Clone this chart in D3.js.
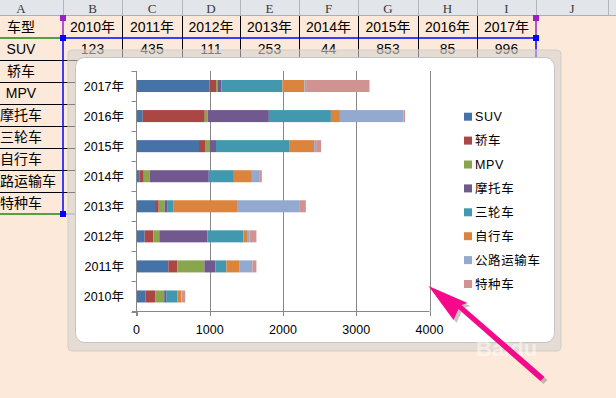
<!DOCTYPE html>
<html lang="zh">
<head>
<meta charset="UTF-8">
<title>车型 堆积条形图</title>
<script src="https://d3js.org/d3.v7.min.js"></script>
<style>
  body { margin: 0; background: #fde9d9; overflow: hidden; }
  svg { display: block; }
  text { font-family: "Liberation Sans", Arial, "Noto Sans CJK SC", sans-serif; }
</style>
</head>
<body>
<div id="chart"></div>
<script>
// ---- data ----
var years = ["2010年", "2011年", "2012年", "2013年", "2014年", "2015年", "2016年", "2017年"];
var carTypes = ["SUV", "轿车", "MPV", "摩托车", "三轮车", "自行车", "公路运输车", "特种车"];

var suv     = [123, 435, 111, 253, 44, 853, 85, 996];
var sedan   = [132, 123, 118, 50, 55, 82, 847, 90];
var mpv     = [123, 369, 82, 82, 82, 68, 41, 27];
var moto    = [27, 150, 656, 41, 806, 82, 834, 45];
var tricycle = [155, 150, 492, 82, 342, 998, 847, 834];
var bicycle = [50, 182, 50, 875, 246, 342, 123, 300];
var truck   = [5, 173, 32, 847, 100, 27, 866, 23];
var special = [50, 55, 96, 82, 36, 68, 23, 866];

var xTicks = [0, 1000, 2000, 3000, 4000];
var columnLetters = ["A", "B", "C", "D", "E", "F", "G", "H", "I", "J"];

var seriesValues = [suv, sedan, mpv, moto, tricycle, bicycle, truck, special];
var colors = ["#4572a7", "#aa4643", "#89a54e", "#71588f", "#4198af", "#db843d", "#93a9cf", "#d19392"];

// ---- layout ----
var W = 616, H = 398;
var colEdges = [-21, 63, 122, 182, 240, 299, 358, 418, 477, 536, 608];
var headerH = 16, rowH = 22;

var svg = d3.select("#chart").append("svg")
    .attr("width", W)
    .attr("height", H);

svg.append("rect").attr("width", W).attr("height", H).attr("fill", "#fde9d9");

// ---- spreadsheet behind the chart ----
svg.append("rect").attr("width", W).attr("height", headerH).attr("fill", "#e2e5e9");
svg.append("line").attr("x1", 0).attr("x2", W).attr("y1", headerH - 0.5).attr("y2", headerH - 0.5)
    .attr("stroke", "#aab0b8");
colEdges.slice(1).forEach(function(e) {
    svg.append("line").attr("x1", e + 0.5).attr("x2", e + 0.5).attr("y1", 0).attr("y2", headerH)
        .attr("stroke", "#b2b7be");
});
columnLetters.forEach(function(c, i) {
    svg.append("text")
        .attr("x", (colEdges[i] + colEdges[i + 1]) / 2)
        .attr("y", 12.5)
        .attr("text-anchor", "middle")
        .style("font-family", "'Liberation Serif', 'DejaVu Serif', serif")
        .style("font-size", "13px")
        .attr("fill", "#3a3a3a")
        .text(c);
});

var rowY = function(i) { return headerH + i * rowH; };
var rowLabels = ["车型"].concat(carTypes);

// table borders
for (var r = 2; r < rowLabels.length; r++) {
    svg.append("line").attr("x1", 0).attr("x2", colEdges[9]).attr("y1", rowY(r) + 0.5).attr("y2", rowY(r) + 0.5)
        .attr("stroke", "#000");
}
for (var c = 2; c < 9; c++) {
    svg.append("line").attr("x1", colEdges[c] + 0.5).attr("x2", colEdges[c] + 0.5)
        .attr("y1", headerH).attr("y2", rowY(rowLabels.length))
        .attr("stroke", "#000");
}

// cell text (column A is scrolled, so its long labels are clipped at the left edge)
var cellFont = function(sel) {
    return sel.attr("text-anchor", "middle").style("font-size", "14px").attr("fill", "#000");
};
rowLabels.forEach(function(lbl, i) {
    svg.append("text").attr("x", 21).attr("y", rowY(i) + 16).call(cellFont).text(lbl);
});
years.forEach(function(yr, i) {
    svg.append("text").attr("x", (colEdges[i + 1] + colEdges[i + 2]) / 2).attr("y", rowY(0) + 16)
        .call(cellFont).text(yr);
    svg.append("text").attr("x", (colEdges[i + 1] + colEdges[i + 2]) / 2).attr("y", rowY(1) + 16)
        .call(cellFont).text(suv[i]);
});

// selection outlines
var selLine = function(x1, y1, x2, y2, col, w) {
    svg.append("line").attr("x1", x1).attr("y1", y1).attr("x2", x2).attr("y2", y2)
        .attr("stroke", col).attr("stroke-width", w || 1.5);
};
selLine(0, rowY(1), colEdges[1], rowY(1), "#128a12");
selLine(0, rowY(9), colEdges[1], rowY(9), "#128a12");
selLine(colEdges[1], rowY(1), colEdges[9], rowY(1), "#0000ff");
selLine(colEdges[1], rowY(9), colEdges[9], rowY(9), "#6a6aff", 1);
selLine(colEdges[1], rowY(0), colEdges[1], rowY(1), "#9b1fc4");
selLine(colEdges[9], rowY(0), colEdges[9], rowY(1), "#9b1fc4");
selLine(colEdges[1], rowY(1), colEdges[1], rowY(9), "#0000ff");
selLine(colEdges[9], rowY(1), colEdges[9], rowY(9), "#0000ff");
[[colEdges[1], rowY(0) + 2, "#9b1fc4"], [colEdges[9], rowY(0) + 2, "#9b1fc4"],
 [colEdges[1], rowY(1), "#0000ff"], [colEdges[9], rowY(1), "#0000ff"],
 [colEdges[1], rowY(9), "#0000ff"]].forEach(function(p) {
    svg.append("rect").attr("x", p[0] - 3).attr("y", p[1] - 3).attr("width", 6).attr("height", 6)
        .attr("fill", p[2]);
});

// ---- chart object ----
svg.append("rect")
    .attr("x", 68).attr("y", 50).attr("width", 493).attr("height", 301).attr("rx", 4)
    .attr("fill", "rgba(214,211,209,0.6)")
    .attr("stroke", "#d2cecb");
svg.append("rect")
    .attr("x", 75.5).attr("y", 57.5).attr("width", 479).attr("height", 285).attr("rx", 9)
    .attr("fill", "#fff")
    .attr("stroke", "#c4c4c4");

var x = d3.scaleLinear().domain([0, 4000]).range([136.5, 429.5]);
var yDomain = years.slice().reverse();
var y = d3.scaleBand().domain(yDomain).range([71, 311.5]).paddingInner(0.6).paddingOuter(0.3);
var yCell = d3.scaleBand().domain(yDomain).range([71, 311.5]).padding(0);

var axisColor = "#878787";

// vertical gridlines
svg.append("g").selectAll("line")
    .data(xTicks.slice(1))
    .enter().append("line")
    .attr("x1", function(d) { return Math.round(x(d)) + 0.5; })
    .attr("x2", function(d) { return Math.round(x(d)) + 0.5; })
    .attr("y1", 71).attr("y2", 311.5)
    .attr("stroke", axisColor);

// stacked bars
var rows = years.map(function(yr, i) {
    var o = { year: yr };
    carTypes.forEach(function(t, k) { o[t] = seriesValues[k][i]; });
    return o;
});
var stacked = d3.stack().keys(carTypes)(rows);

svg.append("g").selectAll("g")
    .data(stacked)
    .enter().append("g")
    .attr("fill", function(d, i) { return colors[i]; })
    .selectAll("rect")
    .data(function(d) { return d; })
    .enter().append("rect")
    .attr("x", function(d) { return x(d[0]); })
    .attr("width", function(d) { return x(d[1]) - x(d[0]); })
    .attr("y", function(d) { return y(d.data.year); })
    .attr("height", y.bandwidth());

// category axis
var catAxis = svg.append("g").attr("stroke", axisColor);
catAxis.append("line").attr("x1", 136.5).attr("x2", 136.5).attr("y1", 71).attr("y2", 316);
var bounds = yDomain.map(function(d) { return yCell(d); }).concat([311.5]);
catAxis.selectAll(".tk").data(bounds).enter().append("line")
    .attr("x1", 131.5).attr("x2", 136.5)
    .attr("y1", function(d) { return Math.round(d) + 0.5; })
    .attr("y2", function(d) { return Math.round(d) + 0.5; });
svg.append("g").selectAll("text")
    .data(yDomain)
    .enter().append("text")
    .attr("x", 124)
    .attr("y", function(d) { return yCell(d) + yCell.bandwidth() / 2 + 4.5; })
    .attr("text-anchor", "end")
    .style("font-size", "12.5px")
    .attr("fill", "#000")
    .text(function(d) { return d; });

// value axis
var valAxis = svg.append("g").attr("stroke", axisColor);
valAxis.append("line").attr("x1", 132).attr("x2", x(4000)).attr("y1", 311.5).attr("y2", 311.5);
valAxis.selectAll(".tk").data(xTicks).enter().append("line")
    .attr("x1", function(d) { return Math.round(x(d)) + 0.5; })
    .attr("x2", function(d) { return Math.round(x(d)) + 0.5; })
    .attr("y1", 311.5).attr("y2", 316);
svg.append("g").selectAll("text")
    .data(xTicks)
    .enter().append("text")
    .attr("x", function(d) { return x(d); })
    .attr("y", 333.5)
    .attr("text-anchor", "middle")
    .style("font-size", "12.5px")
    .attr("fill", "#000")
    .text(function(d) { return d; });

// legend
var legend = svg.append("g").selectAll("g")
    .data(carTypes)
    .enter().append("g")
    .attr("transform", function(d, i) { return "translate(464," + (116.7 + i * 23.9) + ")"; });
legend.append("rect")
    .attr("x", 0).attr("y", -4).attr("width", 8).attr("height", 8)
    .attr("fill", function(d, i) { return colors[i]; });
legend.append("text")
    .attr("x", 11).attr("y", 4.5)
    .style("font-size", "12.5px")
    .style("letter-spacing", "0.6px")
    .attr("fill", "#000")
    .text(function(d) { return d; });

// watermark
svg.append("text")
    .attr("x", 476).attr("y", 356)
    .style("font-size", "22px").style("font-weight", "bold")
    .attr("fill", "#fff").attr("opacity", 0.5)
    .text("Baidu");

// pink arrow pointing at the axis end
var tipX = x(4000) - 1, tipY = 286;
var arrowPts = function(dx, dy) {
    var pts = [[0, 0], [25, 34], [30, 23], [112, 95], [116, 91], [33, 19], [39, 17]];
    return pts.map(function(p) { return [tipX + p[0] + dx, tipY + p[1] + dy]; });
};
svg.append("polygon")
    .attr("points", arrowPts(3, 3).join(" "))
    .attr("fill", "#555").attr("opacity", 0.35);
svg.append("polygon")
    .attr("points", arrowPts(0, 0).join(" "))
    .attr("fill", "#f7078a");
</script>
</body>
</html>
